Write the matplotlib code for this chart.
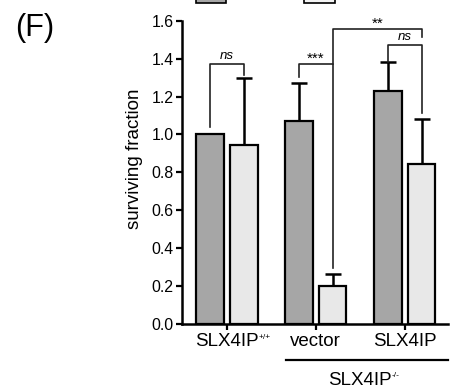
import matplotlib
matplotlib.use("Agg")
import matplotlib.pyplot as plt
from matplotlib.patches import Rectangle

plt.rcParams['font.family'] = ['Liberation Sans', 'DejaVu Sans']

groups = ["SLX4IP", "vector", "SLX4IP"]
sups = ["+/+", "", ""]
dark = [1.00, 1.07, 1.23]
dark_err = [0.0, 0.20, 0.155]
light = [0.945, 0.20, 0.845]
light_err = [0.352, 0.06, 0.236]

# significance brackets: (x_left, y_left_bottom, x_right, y_right_bottom, y_top, label, label_x)
brackets = [
    (-0.19, 1.04, 0.19, 1.315, 1.373, "ns", 0.0),
    (0.81, 1.306, 1.19, 0.292, 1.373, "***", 1.0),
    (1.19, 1.373, 2.19, 1.514, 1.56, "**", 1.70),
    (1.81, 1.385, 2.19, 1.112, 1.473, "ns", 2.0),
]

fig = plt.figure(figsize=(4.61, 3.92), dpi=100)
ax = fig.add_axes([0.395, 0.1747, 0.5775, 0.7717])

x = range(len(groups))
off = 0.19
w = 0.31
xd = [i - off for i in x]
xl = [i + off for i in x]
ax.bar(xd, dark, w, color="#a6a6a6", edgecolor="black", linewidth=1.6, zorder=2)
ax.bar(xl, light, w, color="#e8e8e8", edgecolor="black", linewidth=1.6, zorder=2)
ax.errorbar(xd, dark, yerr=[[0] * 3, dark_err], fmt="none", ecolor="black",
            elinewidth=1.8, capsize=5.5, capthick=1.8, zorder=1)
ax.errorbar(xl, light, yerr=[[0] * 3, light_err], fmt="none", ecolor="black",
            elinewidth=1.8, capsize=5.5, capthick=1.8, zorder=1)

for x0, y0, x1, y1, yt, lab, lx in brackets:
    ax.plot([x0, x0, x1, x1], [y0, yt, yt, y1], color="#222222", lw=1.2,
            clip_on=False, zorder=3)
    if lab == "ns":
        ax.text(lx, yt + 0.012, lab, ha="center", va="bottom", fontsize=9.5,
                style="italic")
    else:
        ax.text(lx, yt - 0.01, lab, ha="center", va="bottom", fontsize=11)

ax.set_xlim(-0.503, 2.49)
ax.set_ylim(0, 1.6)
ax.set_yticks([0.0, 0.2, 0.4, 0.6, 0.8, 1.0, 1.2, 1.4, 1.6])
ax.set_yticklabels(["0.0", "0.2", "0.4", "0.6", "0.8", "1.0", "1.2", "1.4", "1.6"])
ax.set_xticks(list(x))
ax.set_xticklabels(groups, fontsize=13.5)
ax.tick_params(axis="y", labelsize=11.4, width=1.6, length=4, pad=2)
ax.tick_params(axis="x", width=1.6, length=4, pad=3)
for s in ["top", "right"]:
    ax.spines[s].set_visible(False)
for s in ["left", "bottom"]:
    ax.spines[s].set_linewidth(1.8)
ax.set_ylabel("surviving fraction", fontsize=13.5)
ax.yaxis.set_label_coords(-0.146, 0.544)

# superscripts on tick labels
for lbl, sp in zip(ax.get_xticklabels(), sups):
    if sp:
        ax.annotate(sp, xy=(1.0, 0.95), xycoords=lbl, ha="left", va="top",
                    fontsize=6)

# group line and label for knockout
ax.plot([0.665, 2.49], [-0.1207, -0.1207], color="black", lw=1.6,
        transform=ax.get_xaxis_transform(), clip_on=False)
t = ax.text(1.50, -0.187, "SLX4IP", ha="center", va="center", fontsize=13.5,
            transform=ax.get_xaxis_transform())
ax.annotate("-/-", xy=(1.0, 0.95), xycoords=t, ha="left", va="top", fontsize=6)

# legend swatches (cut off at top of panel)
fig.patches.append(Rectangle((196 / 461, 1 - 3 / 392), 30 / 461, 12 / 392,
                             transform=fig.transFigure, facecolor="#a6a6a6",
                             edgecolor="black", lw=1.2))
fig.patches.append(Rectangle((304 / 461, 1 - 3 / 392), 31 / 461, 12 / 392,
                             transform=fig.transFigure, facecolor="#f4f4f4",
                             edgecolor="black", lw=1.2))

fig.text(15 / 461, 1 - 28 / 392, "(F)", fontsize=22, va="center", ha="left")

fig.savefig("out.png", dpi=100)
